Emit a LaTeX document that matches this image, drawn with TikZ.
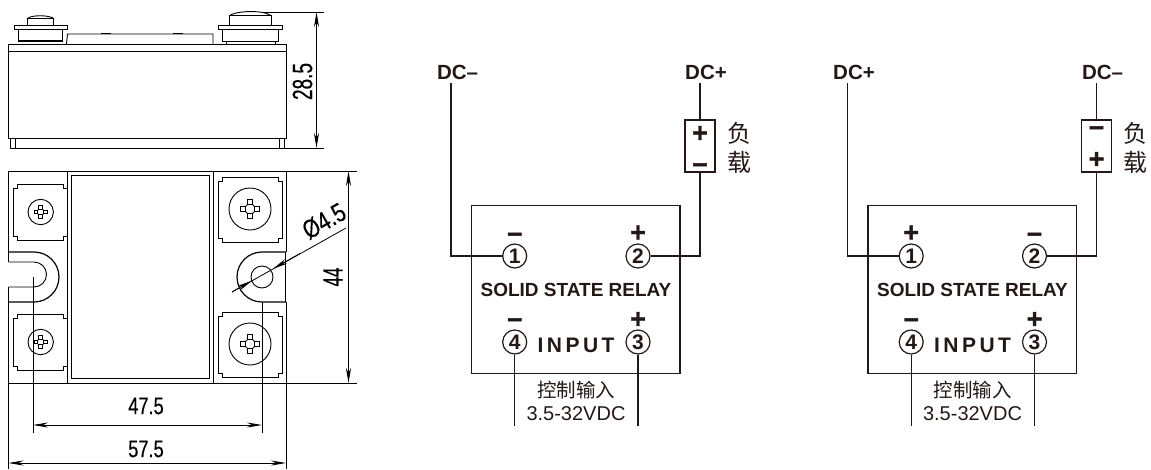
\documentclass[tikz,border=0pt]{standalone}
\usepackage{fontspec}
\usepackage{graphicx}
\setmainfont{Liberation Sans}
\newfontfamily\cjk{Noto Sans CJK SC}
\newfontfamily\signfont{Liberation Sans Bold}[FakeBold=1.5]
\newfontfamily\dimfont{Liberation Sans}[FakeBold=0.5]
\usetikzlibrary{arrows.meta}
\definecolor{ink}{HTML}{231815}
\newcommand{\dimtxt}[3][24]{\dimfont\fontsize{#1}{#1}\selectfont\scalebox{#2}[1]{#3}}
\newcommand{\plate}[4]{%
  \draw[mech] ({#1+4},#2) -- ({#3-4},#2) -- ({#3-4},{#2+4}) -- (#3,{#2+4}) -- (#3,{#4-4}) -- ({#3-4},{#4-4}) -- ({#3-4},#4) -- ({#1+4},#4) -- ({#1+4},{#4-4}) -- (#1,{#4-4}) -- (#1,{#2+4}) -- ({#1+4},{#2+4}) -- cycle;}
\newcommand{\screw}[4]{%
  \begin{scope}[shift={(#1,#2)}]
    \draw[mech] (0,0) circle[radius=#3];
    \draw[mech,fill=white] (-#4,0) -- (0,-#4) -- (#4,0) -- (0,#4) -- cycle;
    \draw[mech,fill=white] ({-#4*.4},{-#4*.4-#4}) rectangle ({#4*.4},{-#4*.6});
    \draw[mech,fill=white] ({-#4*.4},{#4*.6}) rectangle ({#4*.4},{#4*.4+#4});
    \draw[mech,fill=white] ({-#4*.4-#4},{-#4*.4}) rectangle ({-#4*.6},{#4*.4});
    \draw[mech,fill=white] ({#4*.6},{-#4*.4}) rectangle ({#4*.4+#4},{#4*.4});
  \end{scope}}
\tikzset{
  mech/.style={draw=black,line width=0.9pt},
  thin dim/.style={draw=black,line width=0.8pt},
  dimarrow/.style={thin dim,{Stealth[length=15pt,width=5pt]}-{Stealth[length=15pt,width=5pt]}},
  wire/.style={draw=ink,line width=1.2pt},
  term/.style={circle,draw=ink,line width=1.2pt,minimum size=24pt,inner sep=0pt,text=ink,font=\bfseries\fontsize{21}{21}\selectfont},
  dclabel/.style={text=ink,inner sep=0pt,font=\bfseries\fontsize{20.5}{20.5}\selectfont},
  cn/.style={text=ink,inner sep=0pt,font=\cjk\fontsize{24}{24}\selectfont},
  cnsmall/.style={text=ink,inner sep=0pt,font=\cjk\fontsize{19.5}{19.5}\selectfont},
  volt/.style={text=ink,inner sep=0pt,font=\fontsize{20}{20}\selectfont},
  titlelabel/.style={text=ink,inner sep=0pt,font=\bfseries\fontsize{19}{19}\selectfont},
  inputlabel/.style={text=ink,inner sep=0pt,font=\bfseries\fontsize{21}{21}\selectfont},
  sign/.style={text=ink,inner sep=0pt,anchor=base,font=\signfont\fontsize{27}{27}\selectfont},
  boxrect/.style={draw=ink,line width=1.2pt,inner sep=0pt}
}
\newcommand{\relay}[6]{% prefix, xshift, left label, right label, left sign, right sign
  \begin{scope}[shift={(#2,0)},name prefix=#1-]
    \node[boxrect,minimum width=208.5pt,minimum height=167.5pt] (box) at (575.75,289.5) {};
    \node[dclabel] (dcl) at (457.5,72) {#3};
    \node[dclabel] (dcr) at (706,72) {#4};
    \coordinate (wl) at (451,83);
    \coordinate (wr) at (700,83);
    \node[term] (t1) at (514.7,256) {1};
    \node[term] (t2) at (638,256) {2};
    \node[term] (t4) at (514.7,342) {4};
    \node[term] (t3) at (638,342) {3};
    \node[boxrect,minimum width=30pt,minimum height=52pt] (load) at (700,146) {};
    \draw[wire] (wl) |- (t1.west);
    \draw[wire] (wr) -- (load.north);
    \draw[wire] (load.south) |- (t2.east);
    \coordinate (e4) at (514.7,426);
    \coordinate (e3) at (638,426);
    \draw[wire] (t4.south) -- (e4);
    \draw[wire] (t3.south) -- (e3);
    \node[sign] (s1) at (514.7,241.5) {#5};
    \node[sign] (s2) at (638,241.5) {#6};
    \node[sign] (s4) at (514.7,327) {–};
    \node[sign] (s3) at (638,328) {+};
    \node[titlelabel] (title) at (576,290) {SOLID STATE RELAY};
    \node[inputlabel] (inp) at (576,345) {I\,N\,P\,U\,T};
    \node[cnsmall] (ctl) at (576,390) {控制输入};
    \node[volt] (vdc) at (576,414) {3.5-32VDC};
    \node[cn] (fu) at (739,133) {负};
    \node[cn] (zai) at (739,162) {载};
  \end{scope}}
\begin{document}
\begin{tikzpicture}[x=1pt,y=-1pt]
\useasboundingbox (0,0) rectangle (1151,469);
% ---- side view
\draw[mech] (8.5,44) rectangle (286,138);
\draw[mech] (8.5,51) -- (286,51);
\draw[mech] (10.5,138) -- (10.5,148) (15.5,138) -- (15.5,148) (279,138) -- (279,148) (284,138) -- (284,148);
\draw[mech] (66.5,44) -- (67.5,34) -- (213,34) -- (213,44);
\draw[mech] (101,33.5) -- (111,33.5) (173,33.5) -- (183,33.5);
% left terminal
\draw[mech] (14,25.5) rectangle (67,29.5);
\draw[mech] (18,29.5) -- (18,41) -- (62,41) -- (62,29.5);
\draw[mech,line width=1.3pt] (18,40.5) -- (62,40.5);
\draw[mech] (27.5,25.5) -- (27.5,18) -- (53,18) -- (53,25.5);
\draw[mech] (28,18) .. controls (33,15) and (47,15) .. (53,18);
% right terminal
\draw[mech] (218.5,25.5) rectangle (282,29.5);
\draw[mech] (222,29.5) -- (222,41.5) -- (278,41.5) -- (278,29.5);
\draw[mech] (226,41.5) -- (226,44) (275,41.5) -- (275,44);
\draw[mech] (229.5,25.5) -- (229.5,15.5) -- (271,15.5) -- (271,25.5);
\draw[mech] (229.5,15.5) .. controls (236,11) and (262,9.5) .. (271,15.5);
% dimension 28.5
\draw[thin dim] (262,12) -- (324,12);
\draw[thin dim] (10,148) -- (324,148);
\draw[dimarrow] (316.5,12) -- (316.5,148);
\node[rotate=90,inner sep=0pt] (d285) at (302.5,81.5) {\dimtxt[28]{0.68}{28.5}};
% ---- top view
\draw[mech] (8.5,171) -- (286,171) -- (286,252) (286,302) -- (286,383) -- (8.5,383) -- (8.5,302);
\draw[mech] (8.5,252) -- (8.5,171);
\draw[mech] (67,171) -- (67,383);
\draw[mech] (213.5,171) -- (213.5,383);
\draw[mech] (71.5,175.5) rectangle (209.5,378.5);
\plate{13.5}{184}{67}{240}
\plate{13.5}{314}{67}{370}
\plate{218.5}{177}{282}{242}
\plate{218.5}{312}{282}{377}
\screw{40.7}{212}{12.7}{4.6}
\screw{40.7}{342}{12.7}{4.6}
\screw{250}{209}{21}{7}
\screw{250}{344}{21}{7}
% left slot
\draw[mech,line width=1.2pt] (8.5,252) -- (34,252) arc[start angle=-90,end angle=90,radius=25] -- (8.5,302);
\draw[mech] (8.5,262) -- (34,262) arc[start angle=-90,end angle=90,radius=12.5] -- (8.5,287);
\draw[mech] (8.5,252) -- (8.5,262) (8.5,287) -- (8.5,302);
% right slot
\draw[mech,line width=1.2pt] (286,252) -- (262,252) arc[start angle=270,end angle=90,radius=25] -- (286,302);
\draw[mech] (285,252) -- (285,302);
\draw[mech] (262,277) circle[radius=11];
% dimensions
\draw[thin dim] (286,171) -- (357,171);
\draw[thin dim] (286,383) -- (357,383);
\draw[dimarrow] (348.5,171) -- (348.5,383);
\node[rotate=90,inner sep=0pt] (d44) at (333,277) {\dimtxt[28]{0.6}{44}};
\draw[thin dim] (33,277) -- (33,433);
\draw[thin dim] (262,302) -- (262,433);
\draw[dimarrow] (33,425) -- (262,425);
\node[inner sep=0pt] (d475) at (146,406) {\dimtxt{0.76}{47.5}};
\draw[thin dim] (8.5,383) -- (8.5,469);
\draw[thin dim] (286,383) -- (286,469);
\draw[dimarrow] (8.5,463) -- (286,463);
\node[inner sep=0pt] (d575) at (146,449) {\dimtxt{0.76}{57.5}};
% diameter leader
\draw[thin dim] (232,292) -- (346,228);
\draw[thin dim,-{Stealth[length=15pt,width=5pt]}] (232,292) -- (252,280.7);
\draw[thin dim,-{Stealth[length=15pt,width=5pt]}] (300,253.5) -- (273,268.8);
\node[rotate=30,inner sep=0pt] (dphi) at (324,221) {\dimtxt[26]{0.8}{Ø4.5}};
% ---- circuits
\relay{a}{0}{DC–}{DC+}{–}{+}
\node[sign] (a-lp) at (700,142) {+};
\node[sign] (a-lm) at (700,172) {–};
\relay{b}{396.5}{DC+}{DC–}{+}{–}
\node[sign] (b-lm) at (1096.5,135) {–};
\node[sign] (b-lp) at (1096.5,168) {+};
\end{tikzpicture}
\end{document}
